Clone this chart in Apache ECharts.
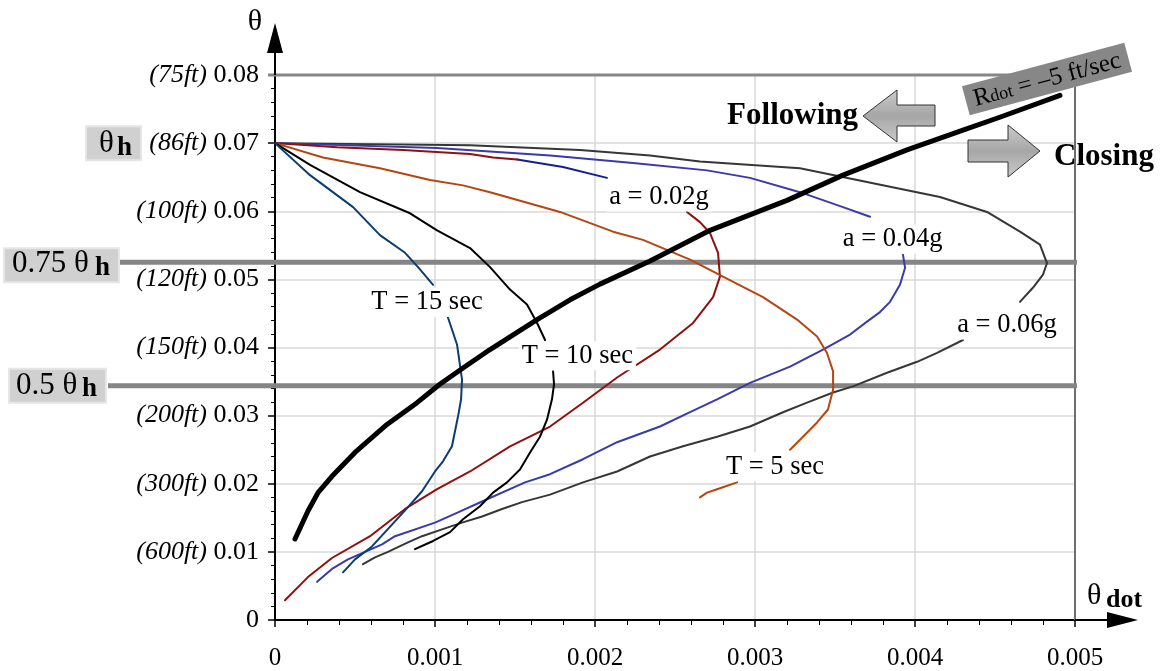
<!DOCTYPE html>
<html>
<head>
<meta charset="utf-8">
<script src="https://cdn.jsdelivr.net/npm/echarts@6.0.0/dist/echarts.min.js"></script>
<style>
html,body{margin:0;padding:0;background:#fff;}
#chart{width:1161px;height:671px;}
</style>
</head>
<body>
<div id="chart"></div>
<script>
// ---------- tick labels ----------
const xTickValues = [0, 0.001, 0.002, 0.003, 0.004, 0.005];
const yTickValues = [0, 0.01, 0.02, 0.03, 0.04, 0.05, 0.06, 0.07, 0.08];
const yRangeLabels = ['', '(600ft)', '(300ft)', '(200ft)', '(150ft)', '(120ft)', '(100ft)', '(86ft)', '(75ft)'];

// ---------- reference levels ----------
const thetaH = 0.07;
const levelValues = [0.0525, 0.0344];      // 0.75 θh, 0.5 θh (as drawn)
const levelNames = ['0.75 θ', '0.5 θ'];

// ---------- curves: [θdot, θ]; null = break where a label sits ----------
const rdotCurve = [[0.000125,0.0119],[0.000206,0.0160],[0.000269,0.0187],[0.000356,0.0211],[0.0005,0.0246],[0.0007,0.0287],[0.000888,0.0319],[0.00103,0.0346],[0.001175,0.0370],[0.001344,0.0397],[0.001638,0.0441],[0.001844,0.0470],[0.002031,0.0493],[0.002344,0.0527],[0.002719,0.0572],[0.0032,0.0616],[0.00355,0.0653],[0.00395,0.0690],[0.0043,0.0719],[0.00453,0.0738],[0.004906,0.0770]];

const t15Curve = [[0,0.07],[0.000219,0.0653],[0.000488,0.0606],[0.000656,0.0565],[0.000813,0.0539],[0.000894,0.0518],[0.000988,0.0492],null,[0.001081,0.0444],[0.001138,0.0404],[0.001169,0.0353],[0.001163,0.0324],[0.001144,0.0299],[0.001106,0.0255],[0.00105,0.0233],[0.001,0.0218],[0.000919,0.0189],[0.000813,0.0161],[0.000688,0.0129],[0.000606,0.0108],[0.0005,0.0089],[0.000425,0.0070]];

const t10Curve = [[0,0.07],[0.000219,0.0668],[0.000531,0.0628],[0.000844,0.0597],[0.001013,0.0572],[0.001219,0.0546],[0.001344,0.0518],[0.001469,0.0485],[0.001575,0.0463],[0.001638,0.0436],[0.001688,0.0411],null,[0.001738,0.0365],[0.001744,0.0346],[0.001731,0.0324],[0.0017,0.0294],[0.001656,0.0269],[0.001594,0.0246],[0.001531,0.0221],[0.00145,0.0202],[0.001363,0.0187],[0.001281,0.0167],[0.001175,0.0148],[0.001094,0.0129],[0.000988,0.0116],[0.000875,0.0104]];

const t5Curve = [[0,0.07],[0.0003,0.0679],[0.000656,0.0663],[0.000969,0.0646],[0.001175,0.0638],[0.001344,0.0628],[0.001781,0.0599],[0.002113,0.0570],[0.0023,0.0558],[0.002594,0.0529],[0.0028,0.0504],[0.00305,0.0474],[0.003263,0.0441],[0.003388,0.0416],[0.00345,0.0392],[0.003488,0.0365],[0.003488,0.0338],[0.003456,0.0309],[0.003388,0.0290],[0.0033,0.0269],[0.003219,0.0250],null,[0.002888,0.0202],[0.002763,0.0192],[0.0027,0.0187],[0.002656,0.0180]];

const a02Curve = [[0,0.07],[0.000388,0.0694],[0.0008,0.0690],[0.001219,0.0684],[0.001363,0.0679],[0.001513,0.0676],null,[0.002575,0.0599],[0.002656,0.0584],[0.002719,0.0568],[0.002769,0.0539],[0.002781,0.0504],[0.002738,0.0474],[0.002613,0.0436],[0.002406,0.0397],[0.002138,0.0356],[0.001925,0.0319],[0.001719,0.0284],[0.001469,0.0255],[0.001219,0.0218],[0.001013,0.0192],[0.000813,0.0163],[0.000594,0.0123],[0.000356,0.0091],[0.000206,0.0063],[0.0000625,0.0029]];

const a02UpperTail = [[0.001513,0.0676],[0.0018,0.0665],[0.002075,0.0649]];

const a04Curve = [[0,0.07],[0.001013,0.0693],[0.001719,0.0682],[0.002238,0.0671],[0.0027,0.0660],[0.002969,0.0649],[0.003281,0.0628],[0.00355,0.0606],[0.003719,0.0592],null,[0.003925,0.0536],[0.003938,0.0517],[0.003906,0.0492],[0.003844,0.0467],[0.003781,0.0452],[0.0037,0.0438],[0.003594,0.0419],[0.003425,0.0397],[0.003219,0.0372],[0.002969,0.0348],[0.002763,0.0324],[0.002594,0.0305],[0.002406,0.0284],[0.002138,0.0261],[0.001925,0.0236],[0.001719,0.0214],[0.001563,0.0202],[0.001294,0.0174],[0.001144,0.0158],[0.001,0.0143],[0.00075,0.0123],[0.000669,0.0111],[0.000563,0.0100],[0.000456,0.0089],[0.000356,0.0075],[0.000263,0.0056]];

const a06Curve = [[0,0.07],[0.001219,0.0697],[0.001906,0.0690],[0.002344,0.0682],[0.002656,0.0673],[0.003281,0.0663],[0.0037,0.0643],[0.004156,0.0621],[0.00445,0.0599],[0.004656,0.0570],[0.004781,0.0551],[0.004825,0.0524],[0.0048,0.0507],[0.004738,0.0488],[0.004656,0.0467],null,[0.0043,0.0411],[0.004138,0.0392],[0.004013,0.0379],[0.003825,0.0363],[0.003613,0.0343],[0.003488,0.0334],[0.003325,0.0319],[0.003175,0.0305],[0.002969,0.0284],[0.002763,0.0269],[0.00255,0.0255],[0.002344,0.0240],[0.002138,0.0218],[0.001925,0.0202],[0.001719,0.0184],[0.001544,0.0173],[0.001419,0.0163],[0.001294,0.0152],[0.001169,0.0143],[0.001044,0.0133],[0.000919,0.0123],[0.000831,0.0114],[0.000706,0.0100],[0.000625,0.0092],[0.00055,0.0082]];

// ---------- curve labels (anchor in data units) ----------
const curveLabelTexts = ['T = 15 sec', 'T = 10 sec', 'T = 5 sec', 'a = 0.02g', 'a = 0.04g', 'a = 0.06g'];
const curveLabelAnchors = [[0.00095,0.0466],[0.00189,0.0388],[0.003125,0.0225],[0.0024,0.0621],[0.00386,0.0559],[0.004575,0.0433]];

// ---------- build ----------
const FONT = "'Liberation Serif','Times New Roman',serif";
const chart = echarts.init(document.getElementById('chart'), null, {renderer: 'canvas'});

function segments(arr) {
  const out = [[]];
  arr.forEach(p => { if (p === null) out.push([]); else out[out.length - 1].push(p); });
  return out.filter(s => s.length > 1);
}

const curves = [
  {name: 'a = 0.06g', data: a06Curve, color: '#363636', width: 2},
  {name: 'a = 0.04g', data: a04Curve, color: '#3a3aa8', width: 2},
  {name: 'a = 0.02g', data: a02UpperTail, color: '#13208c', width: 2},
  {name: 'a = 0.02g', data: a02Curve, color: '#8e1010', width: 2},
  {name: 'T = 5 sec', data: t5Curve, color: '#b5460f', width: 2},
  {name: 'T = 10 sec', data: t10Curve, color: '#000000', width: 2},
  {name: 'T = 15 sec', data: t15Curve, color: '#0b3d6e', width: 2},
  {name: 'Rdot', data: rdotCurve, color: '#000000', width: 5}
];

const series = [];
curves.forEach((c, ci) => {
  segments(c.data).forEach(seg => {
    series.push({
      type: 'line', name: c.name, data: seg, symbol: 'none', showSymbol: false,
      lineStyle: {color: c.color, width: c.width, cap: 'round', join: 'round'},
      z: 3 + ci * 0.01, silent: true, animation: false, clip: false
    });
  });
});

chart.setOption({
  animation: false,
  backgroundColor: '#fff',
  grid: {left: 275, right: 86, top: 75, bottom: 50, containLabel: false},
  xAxis: {
    type: 'value', min: xTickValues[0], max: xTickValues[xTickValues.length - 1], interval: 0.001,
    axisLine: {show: true, lineStyle: {color: '#000', width: 2}},
    axisTick: {show: true, length: 7, lineStyle: {color: '#000', width: 1.5}},
    minorTick: {show: true, splitNumber: 5, length: 5, lineStyle: {color: '#000', width: 1}},
    splitLine: {show: true, lineStyle: {color: '#d9d9d9', width: 1.5}},
    axisLabel: {
      margin: 26, fontSize: 25, fontFamily: FONT, color: '#000',
      formatter: v => (Math.abs(v) < 1e-9 ? '0' : v.toFixed(3))
    }
  },
  yAxis: {
    type: 'value', min: yTickValues[0], max: yTickValues[yTickValues.length - 1], interval: 0.01,
    axisLine: {show: true, lineStyle: {color: '#000', width: 2}},
    axisTick: {show: true, length: 7, lineStyle: {color: '#000', width: 1.5}},
    minorTick: {show: true, splitNumber: 5, length: 4, lineStyle: {color: '#000', width: 1}},
    splitLine: {show: true, lineStyle: {color: '#d9d9d9', width: 1.5}},
    axisLabel: {
      margin: 16, fontFamily: FONT, color: '#000',
      formatter: v => {
        const k = Math.round(v * 100);
        if (k === 0) return '{n|0}';
        return '{i|' + yRangeLabels[k] + '}{n| ' + yTickValues[k].toFixed(2) + '}';
      },
      rich: {
        i: {fontStyle: 'italic', fontSize: 26, fontFamily: FONT, color: '#000'},
        n: {fontSize: 26, fontFamily: FONT, color: '#000'}
      }
    }
  },
  series: series
});

// ---------- decorations positioned through the axes ----------
const P = (x, y) => chart.convertToPixel({gridIndex: 0}, [x, y]);
const xMin = xTickValues[0], xMax = xTickValues[xTickValues.length - 1];
const yMin = yTickValues[0], yMax = yTickValues[yTickValues.length - 1];
const O = P(xMin, yMin), TR = P(xMax, yMax), BR = P(xMax, yMin);

const g = [];
// top border at θ = 0.08 and right border at θdot = 0.005
g.push({type: 'line', z: 1, shape: {x1: O[0] - 7, y1: TR[1], x2: TR[0] + 1, y2: TR[1]}, style: {stroke: '#878787', lineWidth: 3}});
g.push({type: 'line', z: 1, shape: {x1: TR[0], y1: TR[1], x2: BR[0], y2: BR[1]}, style: {stroke: '#6e6e6e', lineWidth: 2}});

// θh reference lines
const levelStartX = [120, 108];
levelValues.forEach((lv, i) => {
  const py = P(xMin, lv)[1];
  g.push({type: 'line', z: 1, shape: {x1: levelStartX[i], y1: py, x2: TR[0] + 2, y2: py}, style: {stroke: '#858585', lineWidth: 5}});
});

// boxes with θh labels
function thetaBox(bx, by, bw, bh, mainText, mainX, mainY, mainSize, hX, hY) {
  g.push({type: 'rect', z: 5, shape: {x: bx, y: by, width: bw, height: bh}, style: {fill: '#d0d0d0', stroke: '#e6e6e6', lineWidth: 2}});
  g.push({type: 'text', z: 6, style: {text: mainText, x: mainX, y: mainY, font: mainSize + 'px ' + FONT, fill: '#000', align: 'left', verticalAlign: 'middle'}});
  g.push({type: 'text', z: 6, style: {text: 'h', x: hX, y: hY, font: 'bold 27px ' + FONT, fill: '#000', align: 'left', verticalAlign: 'middle'}});
}
const hPy = P(xMin, thetaH)[1];
thetaBox(86, hPy - 17, 55, 34, 'θ', 99, hPy + 1, 31, 117, hPy + 5);
const l1 = P(xMin, levelValues[0])[1], l2 = P(xMin, levelValues[1])[1];
thetaBox(4, l1 - 14, 115, 34, levelNames[0], 12, l1 + 2, 31, 95, l1 + 6);
thetaBox(9, l2 - 17, 97, 34, levelNames[1], 16, l2, 31, 82, l2 + 3);

// axis arrows
g.push({type: 'line', z: 2, shape: {x1: O[0], y1: TR[1], x2: O[0], y2: 50}, style: {stroke: '#000', lineWidth: 2}});
g.push({type: 'polygon', z: 2, shape: {points: [[O[0], 23], [O[0] - 8, 53], [O[0] + 8, 53]]}, style: {fill: '#000'}});
g.push({type: 'text', z: 2, style: {text: 'θ', x: 255, y: 22, font: '30px ' + FONT, fill: '#000', align: 'center', verticalAlign: 'middle'}});
g.push({type: 'line', z: 2, shape: {x1: BR[0], y1: O[1], x2: 1110, y2: O[1]}, style: {stroke: '#000', lineWidth: 2}});
g.push({type: 'polygon', z: 2, shape: {points: [[1138, O[1]], [1107, O[1] - 8], [1107, O[1] + 8]]}, style: {fill: '#000'}});
g.push({type: 'text', z: 2, style: {text: 'θ', x: 1087, y: 596, font: '30px ' + FONT, fill: '#000', align: 'left', verticalAlign: 'middle'}});
g.push({type: 'text', z: 2, style: {text: 'dot', x: 1106, y: 600, font: 'bold 26px ' + FONT, fill: '#000', align: 'left', verticalAlign: 'middle'}});

// Following / Closing
const arrowFill = () => new echarts.graphic.LinearGradient(0, 0, 0, 1, [{offset: 0, color: '#cbcbcb'}, {offset: 0.5, color: '#a6a6a6'}, {offset: 1, color: '#cbcbcb'}]);
g.push({type: 'text', z: 6, style: {text: 'Following', x: 858, y: 116, font: 'bold 31px ' + FONT, fill: '#000', align: 'right', verticalAlign: 'middle'}});
g.push({type: 'polygon', z: 6, shape: {points: [[863, 116], [897, 90], [897, 105], [935, 105], [935, 126], [897, 126], [897, 142]]},
  style: {fill: arrowFill(), stroke: '#333', lineWidth: 1}});
g.push({type: 'polygon', z: 6, shape: {points: [[968, 140], [1008, 140], [1008, 125], [1040, 151], [1008, 177], [1008, 162], [968, 162]]},
  style: {fill: arrowFill(), stroke: '#333', lineWidth: 1}});
g.push({type: 'text', z: 6, style: {text: 'Closing', x: 1054, y: 157, font: 'bold 31px ' + FONT, fill: '#000', align: 'left', verticalAlign: 'middle'}});

// Rdot label (rotated gray box)
g.push({
  type: 'group', x: 1047, y: 79, rotation: 15 * Math.PI / 180, z: 8,
  children: [
    {type: 'rect', z: 8, shape: {x: -84, y: -15, width: 168, height: 30}, style: {fill: '#878787'}},
    {type: 'text', z: 9, style: {text: '{r|R}{d|dot}{r| = –5 ft/sec}', x: 0, y: 1, align: 'center', verticalAlign: 'middle',
      rich: {r: {fontSize: 25, fontFamily: FONT, fill: '#000', color: '#000'}, d: {fontSize: 18, fontFamily: FONT, fill: '#000', color: '#000', padding: [4, 0, 0, 0]}}}}
  ]
});

// curve labels with white backgrounds
curveLabelTexts.forEach((t, i) => {
  const p = P(curveLabelAnchors[i][0], curveLabelAnchors[i][1]);
  g.push({type: 'text', z: 7, style: {text: t, x: p[0], y: p[1], font: '26.5px ' + FONT, fill: '#000', align: 'center', verticalAlign: 'middle', backgroundColor: '#fff', padding: [1, 3]}});
});

chart.setOption({graphic: g});
</script>
</body>
</html>
